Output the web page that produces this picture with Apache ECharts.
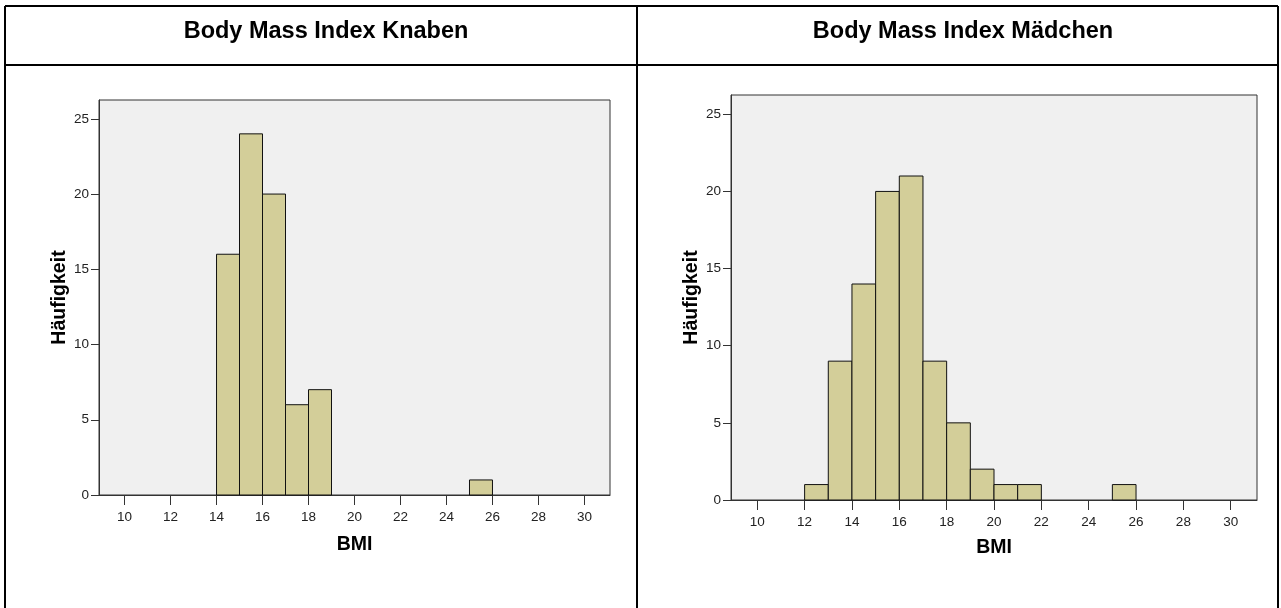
<!DOCTYPE html>
<html>
<head>
<meta charset="utf-8">
<title>Body Mass Index</title>
<script src="https://cdn.jsdelivr.net/npm/echarts@6/dist/echarts.min.js"></script>
<style>
  html, body { margin: 0; padding: 0; background: #fff; }
  #chart { width: 1281px; height: 608px; }
</style>
</head>
<body>
<div id="chart"></div>
<script>
// histogram bins (lower edge), width 1 BMI unit
const binWidth = 1
const knabenBins = [14, 15, 16, 17, 18, 25]
const knabenCounts = [16, 24, 20, 6, 7, 1]
const maedchenBins = [12, 13, 14, 15, 16, 17, 18, 19, 20, 21, 25]
const maedchenCounts = [1, 9, 14, 20, 21, 9, 5, 2, 1, 1, 1]

const xTicks = [10, 12, 14, 16, 18, 20, 22, 24, 26, 28, 30]
const yTicks = [0, 5, 10, 15, 20, 25]
const titles = ['Body Mass Index Knaben', 'Body Mass Index Mädchen']

const font = 'Arial, "Liberation Sans", sans-serif'
const barFill = '#d3ce99'

function toBars(bins, counts) {
  return bins.map((b, i) => [b, b + binWidth, counts[i]])
}

function renderBar(params, api) {
  const p0 = api.coord([api.value(0), api.value(2)])
  const p1 = api.coord([api.value(1), 0])
  return {
    type: 'rect',
    shape: { x: p0[0], y: p0[1], width: p1[0] - p0[0], height: p1[1] - p0[1] },
    style: { fill: barFill, stroke: '#111', lineWidth: 1 },
  }
}

function xAxis(gridIndex, nameGap) {
  return {
    type: 'value',
    gridIndex,
    min: 8.89,
    max: 31.11,
    name: 'BMI',
    nameLocation: 'middle',
    nameGap,
    nameTextStyle: { fontFamily: font, fontSize: 19.5, fontWeight: 'bold', color: '#000' },
    axisLine: { show: true, lineStyle: { color: '#333', width: 1 } },
    axisTick: { show: true, customValues: xTicks, length: 10, lineStyle: { color: '#333' } },
    axisLabel: { customValues: xTicks, margin: 15, fontFamily: font, fontSize: 13.5, color: '#222' },
    splitLine: { show: false },
  }
}

function yAxis(gridIndex, nameGap) {
  return {
    type: 'value',
    gridIndex,
    min: 0,
    max: 26.25,
    name: 'Häufigkeit',
    nameLocation: 'middle',
    nameGap,
    nameTextStyle: { fontFamily: font, fontSize: 19.5, fontWeight: 'bold', color: '#000' },
    axisLine: { show: true, lineStyle: { color: '#333', width: 1 } },
    axisTick: { show: true, customValues: yTicks, length: 8, lineStyle: { color: '#333' } },
    axisLabel: { customValues: yTicks, margin: 10, fontFamily: font, fontSize: 13.5, color: '#222' },
    splitLine: { show: false },
  }
}

const chart = echarts.init(document.getElementById('chart'))

const lineStyle = { stroke: '#000', lineWidth: 2 }

chart.setOption({
  animation: false,
  title: [
    {
      text: titles[0], left: 321, top: 15, textAlign: 'center',
      textStyle: { fontFamily: font, fontSize: 23.5, fontWeight: 'bold', color: '#000' },
    },
    {
      text: titles[1], left: 958, top: 15, textAlign: 'center',
      textStyle: { fontFamily: font, fontSize: 23.5, fontWeight: 'bold', color: '#000' },
    },
  ],
  graphic: [
    { type: 'line', shape: { x1: 5, y1: 6, x2: 1278, y2: 6 }, style: lineStyle },
    { type: 'line', shape: { x1: 5, y1: 65, x2: 1278, y2: 65 }, style: lineStyle },
    { type: 'line', shape: { x1: 5, y1: 6, x2: 5, y2: 608 }, style: lineStyle },
    { type: 'line', shape: { x1: 637, y1: 6, x2: 637, y2: 608 }, style: lineStyle },
    { type: 'line', shape: { x1: 1278, y1: 6, x2: 1278, y2: 608 }, style: lineStyle },
  ],
  grid: [
    {
      left: 99, top: 100, width: 511, height: 395,
      show: true, backgroundColor: '#f0f0f0', borderColor: '#333', borderWidth: 1,
    },
    {
      left: 731, top: 95, width: 526, height: 405,
      show: true, backgroundColor: '#f0f0f0', borderColor: '#333', borderWidth: 1,
    },
  ],
  xAxis: [xAxis(0, 40), xAxis(1, 38)],
  yAxis: [yAxis(0, 27), yAxis(1, 29)],
  series: [
    {
      type: 'custom',
      xAxisIndex: 0,
      yAxisIndex: 0,
      renderItem: renderBar,
      encode: { x: [0, 1], y: 2 },
      data: toBars(knabenBins, knabenCounts),
    },
    {
      type: 'custom',
      xAxisIndex: 1,
      yAxisIndex: 1,
      renderItem: renderBar,
      encode: { x: [0, 1], y: 2 },
      data: toBars(maedchenBins, maedchenCounts),
    },
  ],
})
</script>
</body>
</html>
